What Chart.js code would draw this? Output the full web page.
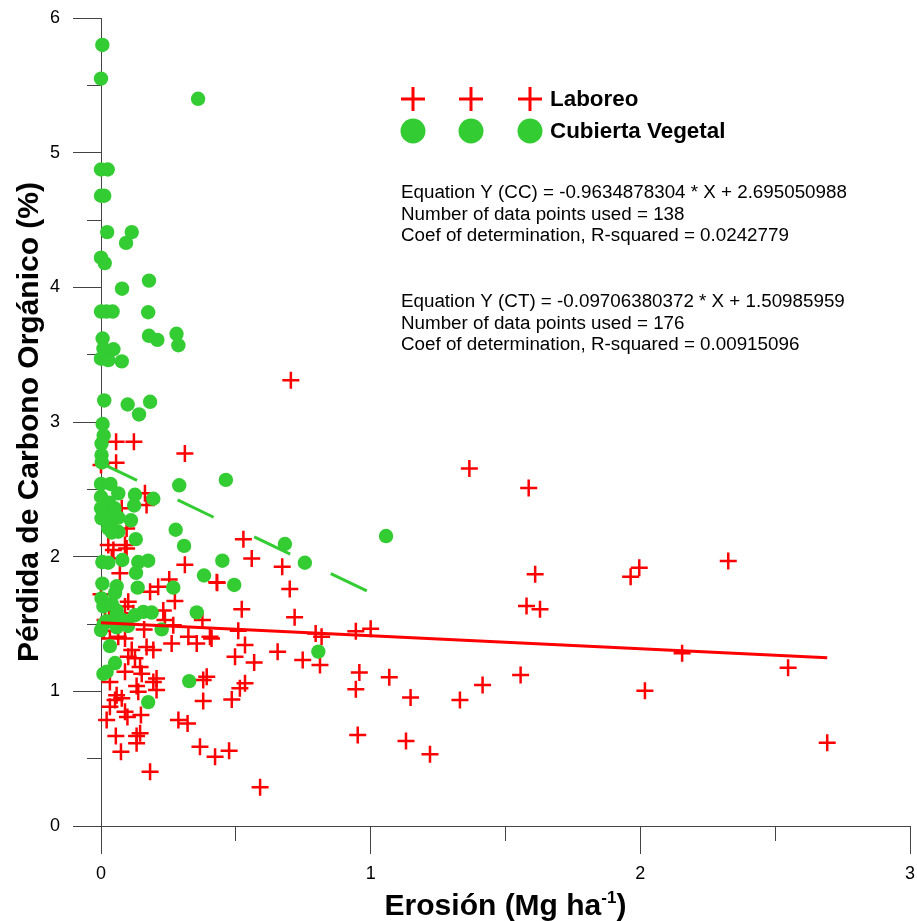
<!DOCTYPE html>
<html><head><meta charset="utf-8">
<script src="https://cdn.jsdelivr.net/npm/chart.js@4/dist/chart.umd.min.js"></script>
<style>html,body{margin:0;padding:0;background:#fff}#wrap{position:relative;width:917px;height:921px}</style>
</head><body><div id="wrap"><canvas id="c" width="917" height="921"></canvas></div>
<script>
// ---- Data: Cubierta Vegetal (CC) ----
const ccX = [0.005,0.0,0.36,0.0,0.025,0.0,0.012,0.023,0.114,0.093,0.0,0.014,0.178,0.078,0.0,0.02,0.043,0.175,0.006,0.178,
  0.209,0.28,0.287,0.009,0.046,0.0,0.027,0.077,0.012,0.099,0.182,0.141,0.006,0.01,0.002,0.002,0.003,0.463,0.29,0.0,
  0.035,0.064,0.126,0.123,0.194,0.0,0.0,0.015,0.002,0.04,0.064,0.027,0.064,0.04,0.111,0.129,0.277,0.308,0.682,1.057,
  0.005,0.027,0.079,0.138,0.175,0.13,0.382,0.45,0.005,0.058,0.052,0.136,0.268,0.494,0.756,0.002,0.009,0.04,0.058,0.058,
  0.126,0.157,0.188,0.355,0.225,0.0,0.058,0.1,0.033,0.052,0.009,0.021,0.327,0.175,0.806,0.02,0.08,0.03,0.05,0.01];
const ccY = [5.80,5.55,5.40,4.875,4.875,4.68,4.68,4.41,4.41,4.33,4.22,4.18,4.05,3.99,3.82,3.82,3.82,3.815,3.62,3.64,
  3.61,3.655,3.57,3.546,3.54,3.47,3.46,3.45,3.16,3.13,3.15,3.056,2.985,2.90,2.84,2.755,2.70,2.57,2.53,2.54,
  2.54,2.47,2.46,2.38,2.43,2.445,2.36,2.32,2.285,2.27,2.29,2.21,2.185,2.18,2.27,2.13,2.20,2.08,2.094,2.153,
  1.96,1.955,1.975,1.96,1.97,1.88,1.86,1.97,1.80,1.78,1.73,1.77,1.77,1.79,1.955,1.69,1.63,1.65,1.60,1.565,
  1.565,1.59,1.585,1.586,1.46,1.455,1.475,1.485,1.336,1.21,1.13,1.145,1.076,0.92,1.295,1.52,1.53,2.40,2.36,1.50];

// ---- Data: Laboreo (CT) ----
const ctX = [0.704,1.366,1.586,1.61,1.578,1.628,0.672,0.70,0.718,0.796,0.818,0.945,1.0,0.655,0.748,0.812,0.958,0.945,1.069,1.148,
  1.331,1.415,1.556,0.952,1.131,1.22,0.59,1.964,1.996,2.326,2.155,2.548,2.017,2.693,0.528,0.559,0.431,0.522,0.509,0.41,
  0.534,0.497,0.568,0.534,0.515,0.485,0.475,0.423,0.021,0.055,0.074,0.182,0.132,0.145,0.132,0.098,0.148,0.033,0.089,0.052,
  0.077,0.058,0.132,0.138,0.194,0.206,0.206,0.033,0.379,0.287,0.321,0.367,0.379,0.392,0.151,0.046,0.095,0.04,0.311,0.429,
  0.253,0.212,0.182,0.274,0.231,0.101,0.089,0.07,0.015,0.376,0.237,0.268,0.324,0.355,0.404,0.262,0.169,0.194,0.114,0.064,
  0.089,0.033,0.101,0.126,0.145,0.089,0.056,0.122,0.311,0.056,0.163,0.169,0.077,0.095,0.027,0.089,0.0,0.01,0.03,0.12,
  0.06,0.16,0.0];
const ctY = [3.31,2.655,2.51,1.87,1.633,1.61,1.925,1.76,1.55,1.43,1.405,1.447,1.465,1.294,1.232,1.195,1.14,1.015,1.104,0.955,
  0.935,1.047,1.121,0.676,0.631,0.532,0.287,1.85,1.918,1.967,1.282,1.175,1.004,0.618,2.13,1.987,1.806,1.61,1.45,1.393,
  1.344,1.257,1.215,1.06,1.022,0.94,0.559,0.515,0.787,0.668,0.552,0.403,0.668,0.688,0.614,0.81,0.824,0.886,0.849,0.935,
  0.948,0.97,1.04,0.997,1.07,1.096,1.01,1.07,0.928,0.787,0.762,0.589,1.084,1.108,1.13,2.05,2.06,1.987,1.94,1.81,
  1.83,1.777,1.74,1.67,1.60,1.665,1.63,1.877,1.53,1.53,1.53,1.49,1.405,1.356,1.405,1.356,1.33,1.307,1.307,1.405,
  1.393,1.393,1.257,1.245,1.18,1.145,2.853,2.853,2.767,2.697,2.47,2.383,2.36,2.21,2.086,2.086,1.72,1.45,1.55,1.58,
  1.50,1.46,2.68];

// ---- Regression fits (from the stated equations) ----
const ccFit = [-0.9634878304, 2.695050988];
const ctFit = [-0.09706380372, 1.50985959];

// ---- Axis ticks ----
const xTickLabels = ['0','1','2','3'];
const yTickLabels = ['0','1','2','3','4','5','6'];

// ---- Text ----
const legendLabels = ['Laboreo', 'Cubierta Vegetal'];
const ccText = ['Equation Y (CC) = -0.9634878304 * X + 2.695050988','Number of data points used = 138','Coef of determination, R-squared = 0.0242779'];
const ctText = ['Equation Y (CT) = -0.09706380372 * X + 1.50985959','Number of data points used = 176','Coef of determination, R-squared = 0.00915096'];

const RED = '#ff0000', GREEN = '#33cc33';
const FONT = '"Liberation Sans", Arial, sans-serif';

const toPts = (xs, ys) => xs.map((x, i) => ({x, y: ys[i]}));
const fitLine = (xs, f) => {
  const a = Math.min(...xs), b = Math.max(...xs);
  return [{x: a, y: f[0]*a + f[1]}, {x: b, y: f[0]*b + f[1]}];
};

const overlay = {
  id: 'overlay',
  afterDraw(chart) {
    const ctx = chart.ctx;
    ctx.save();
    // legend markers
    [413, 471, 530].forEach(x => {
      ctx.strokeStyle = RED; ctx.lineWidth = 3;
      ctx.beginPath(); ctx.moveTo(x-12, 99); ctx.lineTo(x+12, 99); ctx.moveTo(x, 87); ctx.lineTo(x, 111); ctx.stroke();
      ctx.fillStyle = GREEN;
      ctx.beginPath(); ctx.arc(x, 131, 12.5, 0, Math.PI*2); ctx.fill();
    });
    ctx.fillStyle = '#000';
    ctx.textBaseline = 'alphabetic';
    ctx.textAlign = 'left';
    ctx.font = 'bold 22.4px ' + FONT;
    ctx.fillText(legendLabels[0], 550, 106);
    ctx.fillText(legendLabels[1], 550, 138);
    ctx.font = '18.8px ' + FONT;
    ccText.forEach((t, i) => ctx.fillText(t, 401, 198 + i*21.5));
    ctText.forEach((t, i) => ctx.fillText(t, 401, 307 + i*21.5));
    // x axis title with superscript
    const a = chart.chartArea;
    const cx = (a.left + a.right) / 2;
    const p1 = 'Erosión (Mg ha', sup = '-1', p3 = ')';
    ctx.font = 'bold 30px ' + FONT;
    const w1 = ctx.measureText(p1).width, w3 = ctx.measureText(p3).width;
    ctx.font = 'bold 17px ' + FONT;
    const w2 = ctx.measureText(sup).width;
    let x0 = cx - (w1 + w2 + w3) / 2;
    const by = 915;
    ctx.font = 'bold 30px ' + FONT;
    ctx.fillText(p1, x0, by);
    ctx.font = 'bold 17px ' + FONT;
    ctx.fillText(sup, x0 + w1, by - 12);
    ctx.font = 'bold 30px ' + FONT;
    ctx.fillText(p3, x0 + w1 + w2, by);
    ctx.restore();
  }
};

const minorDashX = c => Number.isInteger(c.tick.value) ? [] : [14, 1000];
const minorDashY = c => Number.isInteger(c.tick.value) ? [] : [0, 14, 14, 1000];
const zeroPad = s => { s.paddingLeft = 0; s.paddingRight = 0; s.paddingTop = 0; s.paddingBottom = 0; };

new Chart(document.getElementById('c'), {
  type: 'scatter',
  data: {
    datasets: [
      {label: 'CC fit', data: fitLine(ccX, ccFit), showLine: true, borderColor: GREEN, borderWidth: 3,
       borderDash: [40, 45], pointRadius: 0, order: 0, clip: false},
      {label: 'CT fit', data: fitLine(ctX, ctFit), showLine: true, borderColor: RED, borderWidth: 3,
       pointRadius: 0, order: 0, clip: false},
      {label: legendLabels[1], data: toPts(ccX, ccY), pointStyle: 'circle', pointRadius: 7.2,
       backgroundColor: GREEN, borderWidth: 0, order: 1, clip: false},
      {label: legendLabels[0], data: toPts(ctX, ctY), pointStyle: 'cross', pointRadius: 8.5,
       borderColor: RED, borderWidth: 2.5, order: 2, clip: false}
    ]
  },
  options: {
    responsive: false,
    animation: false,
    events: [],
    layout: {autoPadding: false, padding: {left: 0, right: 7, top: 18, bottom: 0}},
    plugins: {legend: {display: false}, tooltip: {enabled: false}},
    scales: {
      x: {
        type: 'linear', min: 0, max: 3,
        afterFit: s => { s.height = 95; zeroPad(s); },
        border: {color: '#444', width: 1},
        grid: {drawOnChartArea: false, drawTicks: true, tickLength: 28, tickColor: '#444', tickWidth: 1,
               tickBorderDash: minorDashX},
        ticks: {stepSize: 0.5, autoSkip: false, maxRotation: 0, padding: 9, color: '#000',
                font: {family: FONT, size: 18},
                callback: v => Number.isInteger(v) ? xTickLabels[v] : ''}
      },
      y: {
        type: 'linear', min: 0, max: 6,
        afterFit: s => { s.width = 101; zeroPad(s); },
        border: {color: '#444', width: 1},
        grid: {drawOnChartArea: false, drawTicks: true, tickLength: 28, tickColor: '#444', tickWidth: 1,
               tickBorderDash: minorDashY},
        ticks: {stepSize: 0.5, autoSkip: false, padding: 13, color: '#000',
                font: {family: FONT, size: 18},
                callback: v => Number.isInteger(v) ? yTickLabels[v] : ''},
        title: {display: true, text: 'Pérdida de Carbono Orgánico (%)', color: '#000',
                font: {family: FONT, size: 30, weight: 'bold', lineHeight: 1}, padding: {top: 15, bottom: 0}}
      }
    }
  },
  plugins: [overlay]
});
</script></body></html>
